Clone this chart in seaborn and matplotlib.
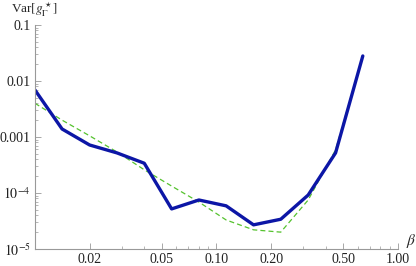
import matplotlib
matplotlib.use('Agg')
import matplotlib.pyplot as plt
import matplotlib.ticker as mtick
import pandas as pd
import seaborn as sns

# data
beta = [0.01, 0.0141, 0.02, 0.0283, 0.04, 0.0566, 0.08, 0.113, 0.16, 0.226, 0.32, 0.453, 0.64]
var_sim = [0.0069, 0.00139, 0.00072, 0.00052, 0.00034, 5.2e-5, 7.5e-5, 5.9e-5,
           2.7e-5, 3.4e-5, 9.2e-5, 5.2e-4, 0.028]
var_fit = [0.0040, 0.0020, 0.00105, 0.00054, 0.00026, 1.33e-4, 6.9e-5, 3.3e-5,
           2.2e-5, 2.0e-5, 7.5e-5, 5.9e-4, 0.028]

x_ticks = [0.02, 0.05, 0.10, 0.20, 0.50, 1.00]
x_labels = ['0.02', '0.05', '0.10', '0.20', '0.50', '1.00']
y_ticks = [1e-5, 1e-4, 1e-3, 1e-2, 1e-1]
y_labels = [r'$10^{-5}$', r'$10^{-4}$', '0.001', '0.01', '0.1']

sns.set_style('ticks')
plt.rcParams['font.family'] = ['Liberation Serif', 'DejaVu Serif']
plt.rcParams['mathtext.fontset'] = 'stix'

df = pd.DataFrame({'beta': beta, 'sim': var_sim, 'fit': var_fit})

fig = plt.figure(figsize=(4.16, 2.66), dpi=100)
ax = fig.add_axes([0.0841, 0.0639, 0.8726, 0.8421])

sns.lineplot(data=df, x='beta', y='fit', ax=ax, color='#55c22e', lw=0.9,
             estimator=None, sort=False, dashes=False, linestyle=(0, (4, 2.5)))
sns.lineplot(data=df, x='beta', y='sim', ax=ax, color='#0c16a6', lw=2.4,
             estimator=None, sort=False)

ax.set_xscale('log')
ax.set_yscale('log')
ax.set_xlim(0.01, 1.0)
ax.set_ylim(1e-5, 0.1)

ax.xaxis.set_major_locator(mtick.FixedLocator(x_ticks))
ax.xaxis.set_major_formatter(mtick.FixedFormatter(x_labels))
ax.xaxis.set_minor_locator(mtick.LogLocator(base=10, subs=range(1, 10), numticks=20))
ax.xaxis.set_minor_formatter(mtick.NullFormatter())
ax.yaxis.set_major_locator(mtick.FixedLocator(y_ticks))
ax.yaxis.set_major_formatter(mtick.FixedFormatter(y_labels))
ax.yaxis.set_minor_locator(mtick.LogLocator(base=10, subs=range(2, 10), numticks=20))
ax.yaxis.set_minor_formatter(mtick.NullFormatter())

for side in ['top', 'right']:
    ax.spines[side].set_visible(False)
for side in ['left', 'bottom']:
    ax.spines[side].set_color('#999999')
    ax.spines[side].set_linewidth(0.8)

ax.tick_params(which='major', direction='in', length=4, width=0.6, color='#999999',
               labelsize=10, labelcolor='#222222', pad=3)
ax.tick_params(which='minor', direction='in', length=2, width=0.5, color='#999999')

ax.set_xlabel('')
ax.set_ylabel('')
fig.text(0.082, 0.962, r'Var$[g_\Gamma^\star]$', ha='center', va='center', fontsize=9.5)
fig.text(0.988, 0.095, r'$\beta$', ha='center', va='center', fontsize=11)

fig.savefig('out.png', dpi=100)
